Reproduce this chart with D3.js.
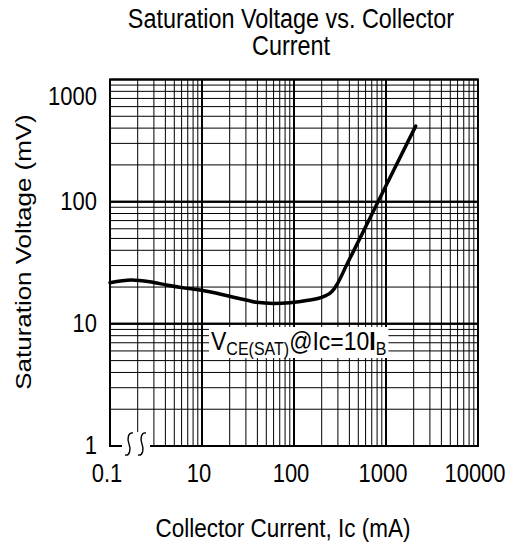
<!DOCTYPE html>
<html lang="en">
<head>
<meta charset="utf-8">
<title>Saturation Voltage vs. Collector Current</title>
<script src="https://cdn.jsdelivr.net/npm/d3@7"></script>
<style>
  html, body { margin: 0; padding: 0; background: white; }
  text { font-family: "Liberation Sans", Arial, sans-serif; fill: black; }
</style>
</head>
<body>
<script>
// curve (x in grid units of the log axis, y in mV)
let current = [1, 1.7, 2.7, 4.1, 6.3, 9.5, 14.5, 22, 32, 39, 60, 90, 137, 208, 257, 291, 374, 441, 670, 1018, 2100];
let voltage = [21.7, 22.8, 22.1, 20.8, 19.7, 18.9, 17.8, 16.5, 15.5, 15.0, 14.7, 14.9, 15.5, 16.7, 18.3, 20.8, 30.4, 39, 73.5, 139, 415];

let xTicks = [1, 10, 100, 1000, 10000];
let xTickLabels = ["0.1", "10", "100", "1000", "10000"];
let yTicks = [1, 10, 100, 1000];
let yTickLabels = ["1", "10", "100", "1000"];

let w = 516;
let h = 547;
let plotL = 110, plotR = 478, plotT = 79.5, plotB = 446;
let stretch = 1.15;   // the original lettering is a bit taller than wide

let svg = d3.select("body")
  .append("svg")
  .attr("width", w)
  .attr("height", h);

let xScale = d3.scaleLog().domain([1, 10000]).range([plotL, plotR]);
let yScale = d3.scaleLog().domain([1, 1000]).range([plotB, plotT]);

function label(x, y, str, size, anchor) {
  return svg.append("text")
    .attr("transform", `translate(${x},${y}) scale(1,${stretch})`)
    .attr("text-anchor", anchor)
    .attr("font-size", size + "px")
    .text(str);
}

// grid lines, 1..9 in every decade
let xGrid = [];
for (let d = 1; d < 10000; d *= 10) {
  for (let k = 1; k <= 10; k++) xGrid.push(k * d);
}
let yGrid = [];
for (let d = 1; d < 1000; d *= 10) {
  for (let k = 1; k <= 10; k++) yGrid.push(k * d);
}

let grid = svg.append("g").attr("stroke", "black");

grid.selectAll(".vx")
  .data(xGrid)
  .enter()
  .append("line")
  .attr("x1", d => xScale(d))
  .attr("x2", d => xScale(d))
  .attr("y1", plotT)
  .attr("y2", plotB)
  .attr("stroke-width", d => xTicks.includes(d) ? 2 : 1);

grid.selectAll(".hy")
  .data(yGrid)
  .enter()
  .append("line")
  .attr("x1", plotL)
  .attr("x2", plotR)
  .attr("y1", d => yScale(d))
  .attr("y2", d => yScale(d))
  .attr("stroke-width", d => yTicks.includes(d) ? 2 : 1);

// frame
svg.append("rect")
  .attr("x", plotL)
  .attr("y", plotT)
  .attr("width", plotR - plotL)
  .attr("height", plotB - plotT)
  .attr("fill", "none")
  .attr("stroke", "black")
  .attr("stroke-width", 2);

// axis break on the bottom edge
svg.append("rect")
  .attr("x", 122)
  .attr("y", 432)
  .attr("width", 28)
  .attr("height", 20)
  .attr("fill", "white");

[128, 141].forEach(bx => {
  svg.append("path")
    .attr("d", `M${bx + 5},433 C${bx},432 ${bx - 1},439 ${bx + 1},444 C${bx + 3},449 ${bx + 2},456 ${bx - 3},455`)
    .attr("fill", "none")
    .attr("stroke", "black")
    .attr("stroke-width", 1.4);
});

// curve
let pts = current.map((c, i) => [xScale(c), yScale(voltage[i])]);
svg.append("path")
  .attr("d", d3.line().curve(d3.curveMonotoneX)(pts))
  .attr("fill", "none")
  .attr("stroke", "black")
  .attr("stroke-width", 3.5)
  .attr("stroke-linecap", "round");

// annotation with white box
let note = svg.append("g");
let noteBg = note.append("rect").attr("fill", "white");
let noteText = note.append("text")
  .attr("transform", `translate(211,350) scale(1,${stretch})`)
  .attr("font-size", "23px");
noteText.append("tspan").text("V");
noteText.append("tspan").attr("font-size", "16px").attr("dy", 4).text("CE(SAT)");
noteText.append("tspan").attr("dy", -4).text("@Ic=10");
noteText.append("tspan").attr("font-weight", "bold").text("I");
noteText.append("tspan").attr("font-size", "16px").attr("dy", 4).text("B");
let bb = noteText.node().getBBox();
noteBg.attr("x", 211 + bb.x - 2).attr("y", 327).attr("width", bb.width + 4).attr("height", 31);

// tick labels
xTicks.forEach((d, i) => label(xScale(d) - 3, 482, xTickLabels[i], 22, "middle"));
yTicks.forEach((d, i) => label(97, yScale(d) + 8 + (d === 1000 ? 17 : 0), yTickLabels[i], 22, "end"));

// titles
label(291, 28, "Saturation Voltage vs. Collector", 23.4, "middle");
label(291, 55, "Current", 23.4, "middle");
label(283, 537, "Collector Current, Ic (mA)", 22.5, "middle");

svg.append("text")
  .attr("transform", `translate(31,252) rotate(-90) scale(1.18,1)`)
  .attr("text-anchor", "middle")
  .attr("font-size", "22px")
  .text("Saturation Voltage (mV)");
</script>
</body>
</html>
